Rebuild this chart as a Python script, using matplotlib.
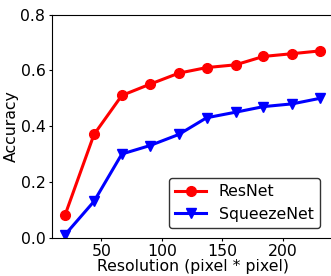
import matplotlib
matplotlib.use("Agg")
import matplotlib.pyplot as plt

resolution = [20, 44, 67, 90, 114, 137, 161, 184, 208, 231]
resnet_acc = [0.08, 0.37, 0.51, 0.55, 0.59, 0.61, 0.62, 0.65, 0.66, 0.67]
squeezenet_acc = [0.01, 0.13, 0.30, 0.33, 0.37, 0.43, 0.45, 0.47, 0.48, 0.50]

plt.rcParams["font.size"] = 11.3

fig = plt.figure(figsize=(3.31, 2.76), dpi=100)
ax = fig.add_axes([0.156, 0.139, 0.852, 0.808])

ax.plot(resolution, resnet_acc, color="red", marker="o", markersize=7,
        linewidth=2.2, label="ResNet")
ax.plot(resolution, squeezenet_acc, color="blue", marker="v", markersize=7,
        linewidth=2.2, label="SqueezeNet")

ax.set_ylim(0, 0.8)
ax.set_xlim(9, 242)
ax.set_yticks([0.0, 0.2, 0.4, 0.6, 0.8])
ax.set_xticks([50, 100, 150, 200])
ax.tick_params(length=2.5, pad=2)
ax.set_xlabel("Resolution (pixel * pixel)", labelpad=0)
ax.set_ylabel("Accuracy", labelpad=1)
ax.legend(loc="lower right", edgecolor="black", fancybox=True,
          borderaxespad=0.6, bbox_to_anchor=(0.985, 0.0))

fig.savefig("out.png", dpi=100)
